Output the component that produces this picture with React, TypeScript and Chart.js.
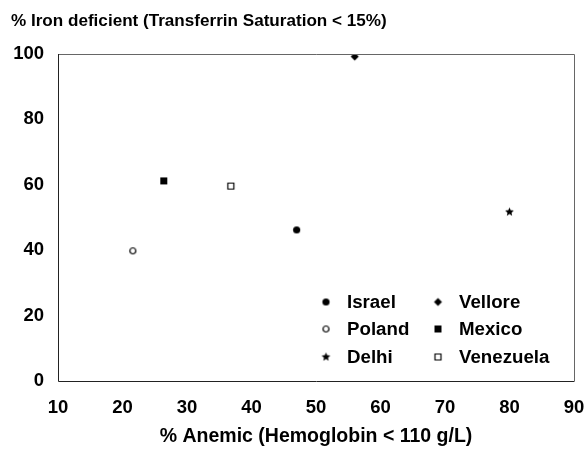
import { useEffect, useRef } from 'react';
import { Chart, registerables } from 'chart.js';

Chart.register(...registerables);

// ---- Data ----
const countries = ['Israel', 'Vellore', 'Poland', 'Mexico', 'Delhi', 'Venezuela'];
const anemicPct = [47, 56, 21.6, 26.4, 80, 36.8];
const ironDeficientPct = [46.2, 99.2, 39.8, 61.2, 51.7, 59.6];
const markerKinds = ['filledCircle', 'filledDiamond', 'openCircle', 'filledSquare', 'star', 'openSquare'];
const xTickValues = [10, 20, 30, 40, 50, 60, 70, 80, 90];
const yTickValues = [0, 20, 40, 60, 80, 100];
const chartTitle = '% Iron deficient (Transferrin Saturation < 15%)';
const xAxisTitle = '% Anemic (Hemoglobin < 110 g/L)';

const FAMILY = '"Liberation Sans", Arial, Helvetica, sans-serif';
const TITLE_SIZE = 17.1;
const TICK_SIZE = 18.5;
const LEGEND_SIZE = 18.7;
const XTITLE_SIZE = 19.5;

function makeMarker(kind: string): HTMLCanvasElement {
  const c = document.createElement('canvas');
  c.width = 11;
  c.height = 11;
  const g = c.getContext('2d')!;
  g.translate(5.5, 5.5);
  g.fillStyle = '#000';
  g.strokeStyle = '#000';
  g.lineWidth = 1.2;
  g.beginPath();
  if (kind === 'filledCircle') {
    g.arc(0, 0, 3.6, 0, Math.PI * 2);
    g.fill();
  } else if (kind === 'openCircle') {
    g.arc(0, 0, 3, 0, Math.PI * 2);
    g.fillStyle = '#fff';
    g.fill();
    g.stroke();
  } else if (kind === 'filledDiamond') {
    g.moveTo(0, -4);
    g.lineTo(4, 0);
    g.lineTo(0, 4);
    g.lineTo(-4, 0);
    g.closePath();
    g.fill();
  } else if (kind === 'filledSquare') {
    g.rect(-3.5, -3.5, 7, 7);
    g.fill();
  } else if (kind === 'openSquare') {
    g.rect(-3, -3, 6, 6);
    g.fillStyle = '#fff';
    g.fill();
    g.stroke();
  } else if (kind === 'star') {
    for (let i = 0; i < 10; i++) {
      const r = i % 2 === 0 ? 4.6 : 2.1;
      const a = -Math.PI / 2 + (i * Math.PI) / 5;
      const px = Math.cos(a) * r;
      const py = Math.sin(a) * r;
      if (i === 0) g.moveTo(px, py);
      else g.lineTo(px, py);
    }
    g.closePath();
    g.fill();
  }
  return c;
}

export default function App() {
  const canvasRef = useRef<HTMLCanvasElement | null>(null);

  useEffect(() => {
    document.body.style.margin = '0';
    const canvas = canvasRef.current;
    if (!canvas) return;
    const markers = markerKinds.map(makeMarker);

    const decorPlugin = {
      id: 'decor',
      afterDraw(chart: any) {
        const { ctx, chartArea } = chart;
        const { left, right, top, bottom } = chartArea;
        ctx.save();
        // frame
        ctx.lineWidth = 1;
        ctx.strokeStyle = '#666';
        ctx.beginPath();
        ctx.moveTo(left, top + 0.5);
        ctx.lineTo(right + 0.5, top + 0.5);
        ctx.lineTo(right + 0.5, bottom);
        ctx.stroke();
        ctx.strokeStyle = '#222';
        ctx.beginPath();
        ctx.moveTo(left + 0.5, top);
        ctx.lineTo(left + 0.5, bottom + 0.5);
        ctx.lineTo(right + 0.5, bottom + 0.5);
        ctx.stroke();

        // title
        ctx.fillStyle = '#000';
        ctx.font = `bold ${TITLE_SIZE}px ${FAMILY}`;
        ctx.textBaseline = 'middle';
        ctx.textAlign = 'left';
        ctx.fillText(chartTitle, 11, 21);

        // x axis title
        ctx.font = `bold ${XTITLE_SIZE}px ${FAMILY}`;
        ctx.textAlign = 'center';
        ctx.fillText(xAxisTitle, (left + right) / 2, 437);

        // legend (2 columns x 3 rows)
        ctx.font = `bold ${LEGEND_SIZE}px ${FAMILY}`;
        const colMarkerX = [left + 268, left + 380];
        const colTextX = [left + 289, left + 401];
        const rowY = [bottom - 79, bottom - 52, bottom - 24];
        ctx.textAlign = 'left';
        chart.data.datasets.forEach((ds: any, i: number) => {
          const col = i % 2;
          const row = Math.floor(i / 2);
          const img = ds.pointStyle as HTMLCanvasElement;
          const mx = colMarkerX[col];
          const my = rowY[row];
          ctx.drawImage(img, mx - img.width / 2, my - img.height / 2);
          ctx.fillText(ds.label, colTextX[col], my + 1);
        });
        ctx.restore();
      },
    };

    const tickFont = { family: FAMILY, size: TICK_SIZE, weight: 'bold' as const };

    const chart = new Chart(canvas, {
      type: 'scatter',
      data: {
        datasets: countries.map((name, i) => ({
          label: name,
          data: [{ x: anemicPct[i], y: ironDeficientPct[i] }],
          pointStyle: markers[i] as any,
          pointRadius: 5,
          backgroundColor: '#000',
          borderColor: '#000',
        })),
      },
      options: {
        animation: false,
        responsive: false,
        layout: { padding: { top: 54, right: 12, left: 0, bottom: 0 } },
        plugins: {
          legend: { display: false },
          tooltip: { enabled: false },
          title: { display: false },
        },
        scales: {
          x: {
            type: 'linear',
            min: xTickValues[0],
            max: xTickValues[xTickValues.length - 1],
            grid: { display: false, drawTicks: false },
            border: { display: false },
            afterBuildTicks: (s: any) => {
              s.ticks = xTickValues.map((v) => ({ value: v }));
            },
            afterFit: (s: any) => {
              s.height = 68;
              s.paddingLeft = 0;
              s.paddingRight = 0;
            },
            ticks: { color: '#000', font: tickFont, padding: 16, maxRotation: 0, autoSkip: false },
          },
          y: {
            type: 'linear',
            min: yTickValues[0],
            max: yTickValues[yTickValues.length - 1],
            grid: { display: false, drawTicks: false },
            border: { display: false },
            afterBuildTicks: (s: any) => {
              s.ticks = yTickValues.map((v) => ({ value: v }));
            },
            afterFit: (s: any) => {
              s.width = 58;
              s.paddingTop = 0;
              s.paddingBottom = 0;
            },
            ticks: { color: '#000', font: tickFont, padding: 14, autoSkip: false },
          },
        },
      },
      plugins: [decorPlugin],
    });

    return () => chart.destroy();
  }, []);

  return (
    <div style={{ width: 586, height: 449, background: '#fff' }}>
      <canvas ref={canvasRef} width={586} height={449} style={{ display: 'block' }} />
    </div>
  );
}
